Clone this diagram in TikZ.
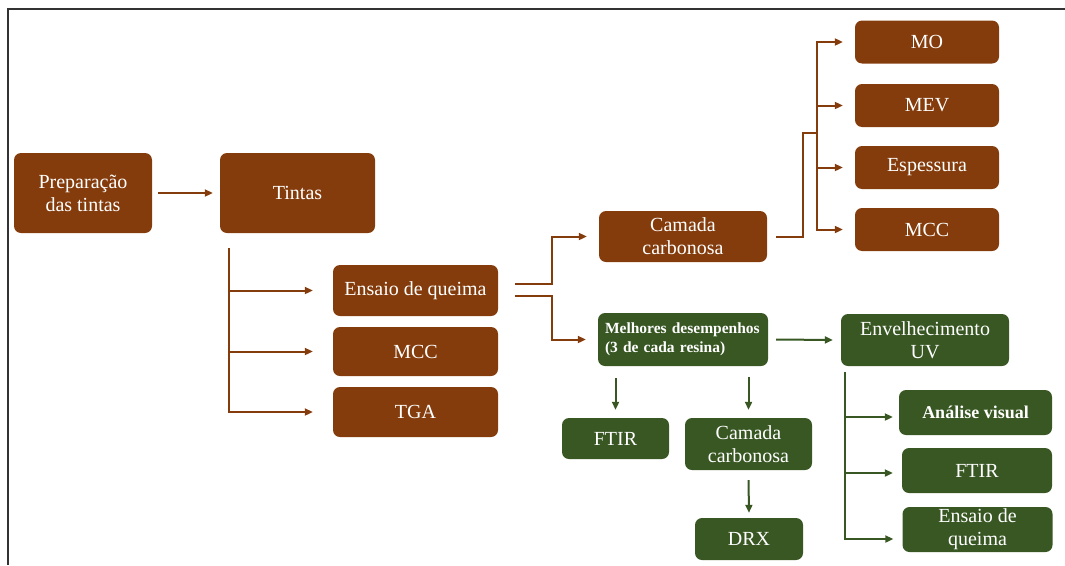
\documentclass[tikz,border=0pt]{standalone}
\usepackage{fontspec}
\setmainfont{Liberation Serif}
\newfontfamily\serf{Liberation Serif}
\usetikzlibrary{arrows.meta,calc}
\definecolor{brn}{HTML}{843C0C}
\definecolor{grn}{HTML}{385723}
\tikzset{
  box/.style={rounded corners=7pt, inner sep=0pt, align=center, text=white,
    font=\serf\fontsize{20}{23}\selectfont},
  bbox/.style={box, fill=brn},
  gbox/.style={box, fill=grn},
  barr/.style={draw=brn, line width=2pt, -{Triangle[length=8pt,width=7pt]}},
  garr/.style={draw=grn, line width=2pt, -{Triangle[length=8pt,width=7pt]}},
  bline/.style={draw=brn, line width=2pt},
}
\begin{document}
\begin{tikzpicture}[x=1pt,y=-1pt]
\useasboundingbox (0,0) rectangle (1065,565);
\draw[line width=1.5pt, draw=black!80] (1065,9) -- (8,9) -- (8,565);

% brown nodes
\node[bbox, minimum width=138pt, minimum height=80pt] (prep) at (83,193) {Preparação\\das tintas};
\node[bbox, minimum width=155pt, minimum height=80pt] (tintas) at (297.5,193) {Tintas};
\node[bbox, minimum width=165pt, minimum height=51pt] (ensaio) at (415.5,290.5) {Ensaio de queima};
\node[bbox, minimum width=165pt, minimum height=49pt] (mcc1) at (415.5,351.5) {MCC};
\node[bbox, minimum width=165pt, minimum height=50pt] (tga) at (415.5,412) {TGA};
\node[bbox, minimum width=168pt, minimum height=51pt] (camada1) at (683,236.5) {Camada\\carbonosa};
\node[bbox, minimum width=144pt, minimum height=43pt] (mo) at (927,42) {MO};
\node[bbox, minimum width=144pt, minimum height=43pt] (mev) at (927,105.5) {MEV};
\node[bbox, minimum width=144pt, minimum height=43pt] (esp) at (927,167.5) {Espessura};
\node[bbox, minimum width=144pt, minimum height=43pt] (mcc2) at (927,229.5) {MCC};

% green nodes
\node[gbox, minimum width=170pt, minimum height=53pt, align=left, text width=156pt,
  font=\serf\fontsize{15.5}{19}\selectfont\bfseries] (melh) at (683,339.5) {Melhores desempenhos\\(3 de cada resina)};
\node[gbox, minimum width=168pt, minimum height=52pt] (env) at (925,340) {Envelhecimento\\UV};
\node[gbox, minimum width=153pt, minimum height=45pt, font=\serf\fontsize{18}{21}\selectfont\bfseries] (anal) at (975.5,412.5) {Análise visual};
\node[gbox, minimum width=150pt, minimum height=45pt] (ftir2) at (977,470.5) {FTIR};
\node[gbox, minimum width=150pt, minimum height=45pt] (ensaio2) at (977.5,529.5) {Ensaio de\\queima};
\node[gbox, minimum width=107pt, minimum height=41pt] (ftir1) at (615.5,438.5) {FTIR};
\node[gbox, minimum width=127pt, minimum height=52pt] (camada2) at (748.5,444) {Camada\\carbonosa};
\node[gbox, minimum width=108pt, minimum height=42pt] (drx) at (749,539) {DRX};

% brown connectors
\draw[barr] ([xshift=6pt]prep.east) -- ([xshift=-7pt]tintas.west);
\coordinate (t0) at ($(tintas.south west)+(9pt,-15pt)$);
\draw[barr] (t0) |- ([xshift=-20pt]ensaio.west);
\draw[barr] (t0) |- ([xshift=-20pt]mcc1.west);
\draw[barr] (t0) |- ([xshift=-20pt]tga.west);

\draw[barr] ([shift={(17pt,7pt)}]ensaio.east) -- ++(37pt,0) |- ([xshift=-12pt]camada1.west);
\draw[barr] ([shift={(17pt,-5pt)}]ensaio.east) -- ++(37pt,0) |- ([xshift=-12pt]melh.west);

\coordinate (hub) at ($(mo.west)+(-38pt,-91pt)$);
\draw[bline] ([xshift=9pt]camada1.east) -- ++(27pt,0) |- (hub);
\draw[barr] (hub) |- ([xshift=-12pt]mo.west);
\draw[barr] (hub) |- ([xshift=-12pt]mev.west);
\draw[barr] (hub) |- ([xshift=-12pt]esp.west);
\draw[barr] (hub) |- ([xshift=-12pt]mcc2.west);

% green connectors
\draw[garr] ([xshift=8pt]melh.east) -- ([xshift=-8pt]env.west);
\draw[garr] ([yshift=-12pt]ftir1.north |- melh.south) -- ([yshift=8pt]ftir1.north);
\draw[garr] ([yshift=-11pt]camada2.north |- melh.south) -- ([yshift=8pt]camada2.north);
\draw[garr] ([yshift=-10pt]camada2.south) -- ([yshift=5pt]drx.north);

\coordinate (e0) at ($(env.south west)+(4pt,-6pt)$);
\draw[garr] (e0) |- ([shift={(-6pt,-4.5pt)}]anal.west);
\draw[garr] (e0) |- ([shift={(-9pt,-2.5pt)}]ftir2.west);
\draw[garr] (e0) |- ([shift={(-9pt,-9.5pt)}]ensaio2.west);
\end{tikzpicture}
\end{document}
